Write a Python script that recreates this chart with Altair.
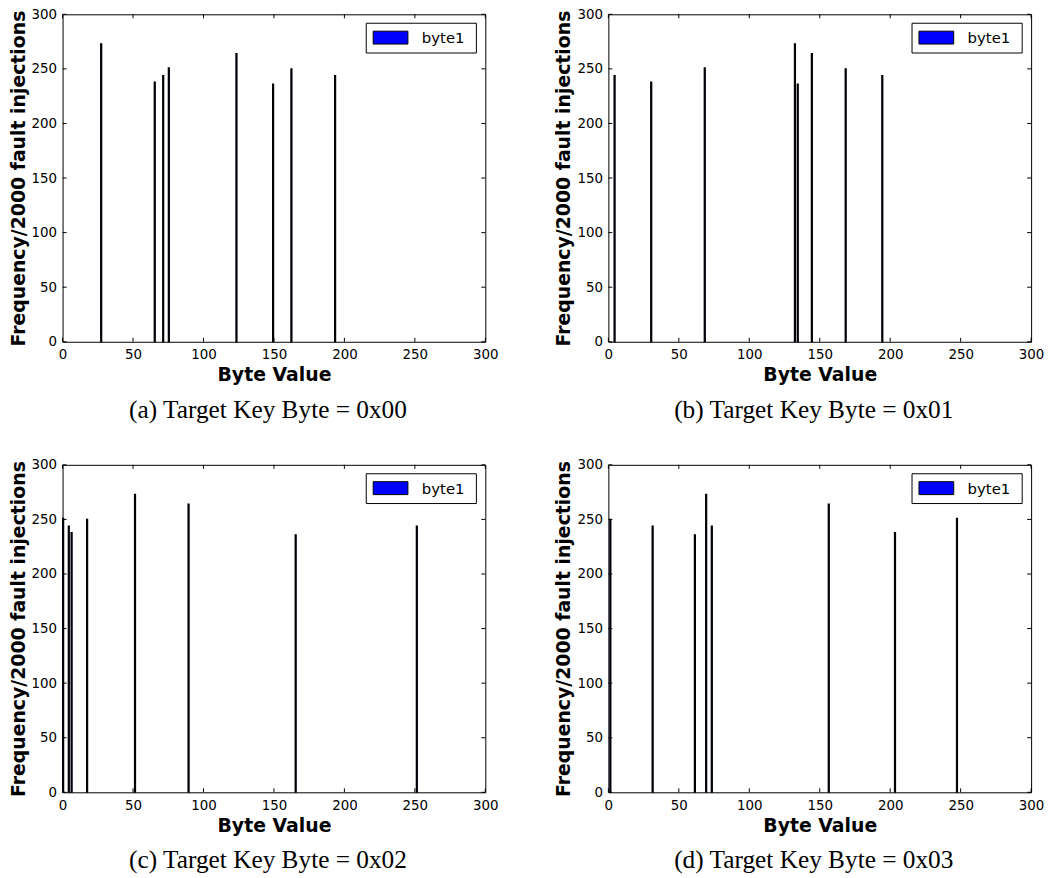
import altair as alt
import pandas as pd

a_bytes = [27, 65, 71, 75, 123, 149, 162, 193]
a_freq = [273, 238, 244, 251, 264, 236, 250, 244]
b_bytes = [4, 30, 68, 132, 134, 144, 168, 194]
b_freq = [244, 238, 251, 273, 236, 264, 250, 244]
c_bytes = [0, 4, 6, 17, 51, 89, 165, 251]
c_freq = [251, 244, 238, 250, 273, 264, 236, 244]
d_bytes = [1, 31, 61, 69, 73, 156, 203, 247]
d_freq = [250, 244, 236, 273, 244, 264, 238, 251]
captions = ["(a) Target Key Byte = 0x00", "(b) Target Key Byte = 0x01",
            "(c) Target Key Byte = 0x02", "(d) Target Key Byte = 0x03"]
tick_values = [0, 50, 100, 150, 200, 250, 300]
legend_labels = ["byte1"]
BAR_WIDTH = 0.8
TICK_LEN = 4

W, H = 426, 330

xscale = alt.Scale(domain=[0, 300], nice=False, zero=False, padding=0)
yscale = alt.Scale(domain=[0, 300], nice=False, zero=False, padding=0)


def panel(bytes_, freq, caption):
    df = pd.DataFrame({"byte": bytes_, "freq": freq})
    df["byte_end"] = df["byte"] + BAR_WIDTH
    bars = alt.Chart(df).mark_bar(color="#0000ff", stroke="black", strokeWidth=1.1).encode(
        x=alt.X("byte:Q", scale=xscale,
                axis=alt.Axis(values=tick_values, format="d", title="Byte Value")),
        x2="byte_end:Q",
        y=alt.Y("freq:Q", scale=yscale,
                axis=alt.Axis(values=tick_values, format="d",
                              title="Frequency/2000 fault injections")),
        y2=alt.datum(0),
    )
    tdf = pd.DataFrame({"t": tick_values})
    rule = dict(color="black", strokeWidth=1)
    xt_bot = alt.Chart(tdf).mark_rule(**rule).encode(
        x=alt.X("t:Q", scale=xscale), y=alt.value(H), y2=alt.value(H - TICK_LEN))
    xt_top = alt.Chart(tdf).mark_rule(**rule).encode(
        x=alt.X("t:Q", scale=xscale), y=alt.value(0), y2=alt.value(TICK_LEN))
    yt_left = alt.Chart(tdf).mark_rule(**rule).encode(
        y=alt.Y("t:Q", scale=yscale), x=alt.value(0), x2=alt.value(TICK_LEN))
    yt_right = alt.Chart(tdf).mark_rule(**rule).encode(
        y=alt.Y("t:Q", scale=yscale), x=alt.value(W), x2=alt.value(W - TICK_LEN))
    ldf = pd.DataFrame({"label": legend_labels})
    lbox = alt.Chart(ldf).mark_rect(fill="white", stroke="black", strokeWidth=1).encode(
        x=alt.value(306), x2=alt.value(417), y=alt.value(9), y2=alt.value(39))
    lpatch = alt.Chart(ldf).mark_rect(fill="#0000ff", stroke="black", strokeWidth=1).encode(
        x=alt.value(313), x2=alt.value(348), y=alt.value(17), y2=alt.value(30))
    ltext = alt.Chart(ldf).mark_text(align="left", baseline="alphabetic", font="DejaVu Sans",
                                     fontSize=15, color="black").encode(
        x=alt.value(362), y=alt.value(29), text="label:N")
    return alt.layer(bars, xt_bot, xt_top, yt_left, yt_right, lbox, lpatch, ltext).properties(
        width=W, height=H,
        title=alt.TitleParams(caption, orient="bottom", anchor="middle", font="Liberation Serif",
                              fontSize=25.5, fontWeight="normal", color="black", offset=13, dx=-6),
    )


chart = alt.concat(
    panel(a_bytes, a_freq, captions[0]),
    panel(b_bytes, b_freq, captions[1]),
    panel(c_bytes, c_freq, captions[2]),
    panel(d_bytes, d_freq, captions[3]),
    columns=2,
    spacing=124,
    bounds="flush",
).configure_view(stroke="black", strokeWidth=1).configure_axis(
    labelFont="DejaVu Sans", labelFontSize=13.5, labelColor="black", labelPadding=6,
    labelFlush=False, labelOverlap=False, labelBound=False,
    titleFont="DejaVu Sans", titleFontSize=19, titleFontWeight="bold", titleColor="black",
    ticks=False, domain=False, grid=False,
).configure_axisX(titlePadding=5).configure_axisY(titlePadding=3, labelPadding=6).properties(
    padding={"left": 0, "top": -5, "right": 0, "bottom": 0}
)

chart.save("out.html", embed_options={"renderer": "svg", "actions": False})
